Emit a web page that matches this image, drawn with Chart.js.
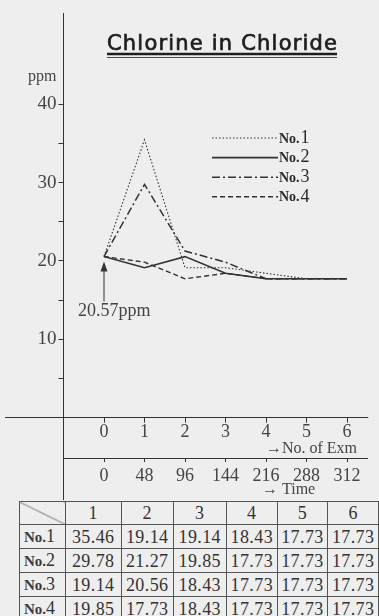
<!DOCTYPE html>
<html>
<head>
<meta charset="utf-8">
<script src="https://cdn.jsdelivr.net/npm/chart.js@4.4.1/dist/chart.umd.min.js"></script>
<style>
  html, body { margin: 0; padding: 0; }
  body { width: 379px; height: 616px; overflow: hidden; position: relative; background: #eeeeee; }
  #chart { position: absolute; left: 0; top: 0; }
  #tbl {
    position: absolute; left: 19px; top: 501px;
    border-collapse: collapse; table-layout: fixed;
    font-family: 'Liberation Serif', serif; font-size: 18px; color: #333;
  }
  #tbl td {
    border: 1px solid #555; height: 22px; line-height: 22px; padding: 0;
    text-align: center; white-space: nowrap; letter-spacing: 0.4px; overflow: hidden;
  }
  #tbl td.name { text-align: left; padding-left: 4px; letter-spacing: 0; }
  #tbl td.name b { font-size: 15px; color: #3a3a3a; }
  #tbl td.corner {
    background: linear-gradient(to top right, transparent calc(50% - 0.8px), #666 50%, transparent calc(50% + 0.8px));
  }
</style>
</head>
<body>
<canvas id="chart" width="379" height="500"></canvas>
<table id="tbl"></table>
<script>
// x positions: exam number and the elapsed time printed under it
const examNos = [0, 1, 2, 3, 4, 5, 6];
const hours = [0, 48, 96, 144, 216, 288, 312];
const startValue = 20.57;

// curves as drawn in the figure (legend styles)
const no1 = [20.57, 35.46, 19.14, 19.14, 18.43, 17.73, 17.73];
const no2 = [20.57, 19.14, 20.56, 18.43, 17.73, 17.73, 17.73];
const no3 = [20.57, 29.78, 21.27, 19.85, 17.73, 17.73, 17.73];
const no4 = [20.57, 19.85, 17.73, 18.43, 17.73, 17.73, 17.73];

// the table exactly as printed (rows 2 and 3 are swapped vs the legend)
const tableCols = [1, 2, 3, 4, 5, 6];
const tableNames = ['1', '2', '3', '4'];
const tableRow1 = [35.46, 19.14, 19.14, 18.43, 17.73, 17.73];
const tableRow2 = [29.78, 21.27, 19.85, 17.73, 17.73, 17.73];
const tableRow3 = [19.14, 20.56, 18.43, 17.73, 17.73, 17.73];
const tableRow4 = [19.85, 17.73, 18.43, 17.73, 17.73, 17.73];

const yTicks = [5, 10, 15, 20, 25, 30, 35, 40];

const ink = '#333';
const textInk = '#444';
const serif = "'Liberation Serif', serif";

// table
const colWidths = [46, 57, 52, 54, 51, 51, 51];
let html = '<colgroup>' + colWidths.map(w => '<col style="width:' + w + 'px">').join('') + '</colgroup>';
html += '<tr><td class="corner"></td>' + tableCols.map(c => '<td>' + c + '</td>').join('') + '</tr>';
[tableRow1, tableRow2, tableRow3, tableRow4].forEach((row, i) => {
  html += '<tr><td class="name"><b>No.</b>' + tableNames[i] + '</td>' +
    row.map(v => '<td>' + v.toFixed(2) + '</td>').join('') + '</tr>';
});
document.getElementById('tbl').innerHTML = html;

function noLabel(ctx, txt, x, y) {
  // "No." bold and small, the number regular
  ctx.textBaseline = 'middle';
  ctx.textAlign = 'left';
  ctx.font = 'bold 14px ' + serif;
  ctx.fillText('No.', x, y + 1);
  const w = ctx.measureText('No.').width;
  ctx.font = '18px ' + serif;
  ctx.fillText(txt, x + w + 1, y);
}

const decor = {
  id: 'decor',
  afterDraw(chart) {
    const ctx = chart.ctx;
    const a = chart.chartArea;
    const xs = chart.scales.x, ys = chart.scales.y;
    ctx.save();
    ctx.strokeStyle = ink;
    ctx.fillStyle = ink;
    ctx.lineWidth = 1;

    // horizontal axis line runs left past the y axis
    const by = Math.round(a.bottom - 0.5) + 0.5;
    ctx.beginPath(); ctx.moveTo(5, by); ctx.lineTo(a.right + 1, by); ctx.stroke();
    // y axis continues down to the table
    const lx = Math.round(a.left - 0.5) + 0.5;
    ctx.beginPath(); ctx.moveTo(lx, a.bottom); ctx.lineTo(lx, chart.height); ctx.stroke();

    // title with double underline
    ctx.font = "21px 'DejaVu Sans', sans-serif";
    ctx.letterSpacing = '1.2px';
    ctx.textAlign = 'left';
    ctx.textBaseline = 'alphabetic';
    ctx.fillStyle = '#1e1e1e';
    ctx.strokeStyle = '#1e1e1e';
    ctx.lineWidth = 0.7;
    ctx.fillText('Chlorine in Chloride', 107, 50);
    ctx.strokeText('Chlorine in Chloride', 107, 50);
    ctx.letterSpacing = '0px';
    ctx.lineWidth = 2.5;
    ctx.beginPath(); ctx.moveTo(107, 54); ctx.lineTo(337, 54); ctx.stroke();
    ctx.lineWidth = 0.8;
    ctx.beginPath(); ctx.moveTo(107, 57.5); ctx.lineTo(337, 57.5); ctx.stroke();

    // unit
    ctx.strokeStyle = ink;
    ctx.fillStyle = textInk;
    ctx.font = '16px ' + serif;
    ctx.textBaseline = 'middle';
    ctx.fillText('ppm', 28, 77);

    // legend
    ctx.fillStyle = '#2b2b2b';
    chart.data.datasets.forEach((ds, i) => {
      const ly = 138 + i * 19.6;
      ctx.save();
      ctx.lineWidth = ds.borderWidth;
      ctx.setLineDash(ds.borderDash);
      ctx.beginPath(); ctx.moveTo(212, ly); ctx.lineTo(278, ly); ctx.stroke();
      ctx.restore();
      noLabel(ctx, ds.label.replace('No.', ''), 279, ly);
    });

    // start value arrow
    const px = xs.getPixelForValue(0);
    const py = ys.getPixelForValue(startValue);
    ctx.fillStyle = ink;
    ctx.lineWidth = 1;
    ctx.beginPath(); ctx.moveTo(px, py + 12); ctx.lineTo(px, py + 45); ctx.stroke();
    ctx.beginPath();
    ctx.moveTo(px, py + 5); ctx.lineTo(px - 3.5, py + 15); ctx.lineTo(px + 3.5, py + 15);
    ctx.closePath(); ctx.fill();
    ctx.fillStyle = textInk;
    ctx.font = '18px ' + serif;
    ctx.textAlign = 'left';
    ctx.fillText(startValue.toFixed(2) + 'ppm', 78, 311);

    // axis captions
    ctx.font = '16px ' + serif;
    ctx.textAlign = 'right';
    ctx.fillText('\u2192No. of Exm', 357, 449);
    ctx.textAlign = 'left';
    ctx.fillText('\u2192 Time', 262, 490);
    ctx.restore();
  }
};

new Chart(document.getElementById('chart'), {
  type: 'line',
  data: {
    labels: examNos,
    datasets: [
      { label: 'No.1', data: no1, borderDash: [1.5, 2], borderWidth: 1.1 },
      { label: 'No.2', data: no2, borderDash: [], borderWidth: 1.6 },
      { label: 'No.3', data: no3, borderDash: [8, 3, 2, 3], borderWidth: 1.5 },
      { label: 'No.4', data: no4, borderDash: [5, 3], borderWidth: 1.4 }
    ].map(d => Object.assign({ borderColor: ink, pointRadius: 0, tension: 0, fill: false }, d))
  },
  options: {
    responsive: false,
    animation: false,
    devicePixelRatio: 1,
    layout: { padding: { left: 0, right: 11.75, top: 5, bottom: 0 } },
    plugins: { legend: { display: false }, tooltip: { enabled: false } },
    scales: {
      x: {
        type: 'linear', position: 'bottom', weight: 0, min: -1, max: 6.5,
        afterBuildTicks: s => { s.ticks = examNos.map(v => ({ value: v })); },
        afterFit: s => { s.height = 40.3; },
        grid: { drawOnChartArea: false, tickLength: 5, color: ink },
        border: { color: ink, width: 1 },
        ticks: { padding: 1, color: textInk, maxRotation: 0, autoSkip: false,
                 font: { family: serif, size: 18, lineHeight: 1 },
                 callback: v => String(v) }
      },
      x2: {
        type: 'linear', position: 'bottom', weight: 1, min: -1, max: 6.5,
        afterBuildTicks: s => { s.ticks = examNos.map(v => ({ value: v })); },
        afterFit: s => { s.height = 42; },
        grid: { drawOnChartArea: false, tickLength: 4, color: ink },
        border: { color: ink, width: 1, dash: [3, 2] },
        ticks: { padding: 5, color: textInk, maxRotation: 0, autoSkip: false,
                 font: { family: serif, size: 18, lineHeight: 1 },
                 callback: v => String(hours[examNos.indexOf(v)]) }
      },
      y: {
        min: 0, max: 51.6,
        afterBuildTicks: s => { s.ticks = yTicks.map(v => ({ value: v })); },
        afterFit: s => { s.width = 63.5; },
        grid: { drawOnChartArea: false, tickLength: 5, color: ink },
        border: { color: ink, width: 1 },
        ticks: { padding: 2, color: textInk, font: { family: serif, size: 19 },
                 callback: v => (v % 10 === 0 ? String(v) : '') }
      }
    }
  },
  plugins: [decor]
});
</script>
</body>
</html>
